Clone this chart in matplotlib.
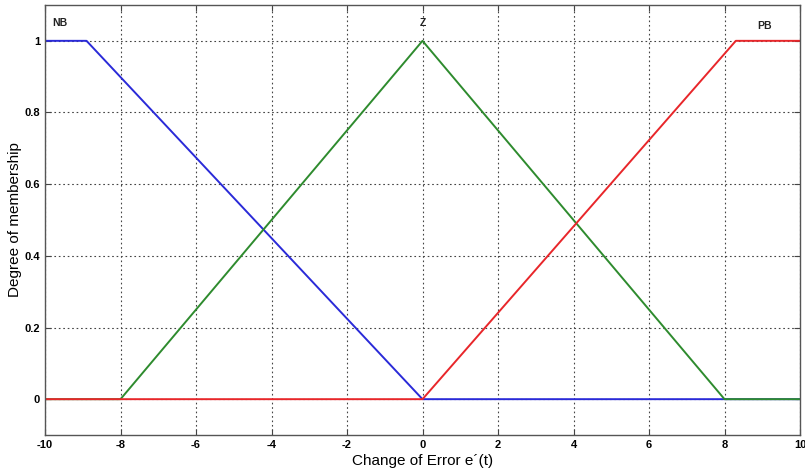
import matplotlib
matplotlib.use("Agg")
import matplotlib.pyplot as plt

plt.rcParams["font.family"] = ["Liberation Sans", "DejaVu Sans"]
plt.rcParams["axes.unicode_minus"] = False

# membership functions (breakpoints)
NB_X = [-10, -8.9, 0, 10]
NB_Y = [1, 1, 0, 0]
Z_X = [-10, -8, 0, 8, 10]
Z_Y = [0, 0, 1, 0, 0]
PB_X = [-10, 0, 8.3, 10]
PB_Y = [0, 0, 1, 1]

LABELS = ["NB", "Z", "PB"]
LABEL_X = [-9.6, 0, 9.05]
LABEL_Y = [1.05, 1.05, 1.04]

X_TICKS = list(range(-10, 11, 2))
Y_TICKS = [0, 0.2, 0.4, 0.6, 0.8, 1]
Y_TICK_LABELS = ["0", "0.2", "0.4", "0.6", "0.8", "1"]

fig = plt.figure(figsize=(8.05, 4.71), dpi=100)
fig.patch.set_facecolor("white")
ax = fig.add_axes([0.0559, 0.0764, 0.9379, 0.913])

ax.plot(NB_X, NB_Y, color="#2a2ad8", lw=1.4)
ax.plot(Z_X, Z_Y, color="#2e8b2e", lw=1.4)
ax.plot(PB_X, PB_Y, color="#e8262a", lw=1.4)

for name, lx, ly in zip(LABELS, LABEL_X, LABEL_Y):
    ax.text(lx, ly, name, ha="center", va="center", fontsize=7.5,
            fontweight="bold", color="#222222")

ax.set_xlim(-10, 10)
ax.set_ylim(-0.1, 1.1)
ax.set_xticks(X_TICKS)
ax.set_yticks(Y_TICKS)
ax.set_yticklabels(Y_TICK_LABELS)
ax.tick_params(direction="in", labelsize=8, length=4, color="#444444", top=True, right=True)
for lbl in ax.get_xticklabels() + ax.get_yticklabels():
    lbl.set_fontweight("bold")
ax.grid(True, linestyle=(0, (1.5, 2.5)), color="#444444", linewidth=0.8)

for spine in ax.spines.values():
    spine.set_color("#555555")
    spine.set_linewidth(1.0)

ax.set_xlabel("Change of Error e\u00b4(t)", fontsize=11)
ax.set_ylabel("Degree of membership", fontsize=11)
ax.xaxis.set_label_coords(0.5, -0.044)
ax.yaxis.set_label_coords(-0.031, 0.5)

fig.savefig("out.png", dpi=100, facecolor="white")
